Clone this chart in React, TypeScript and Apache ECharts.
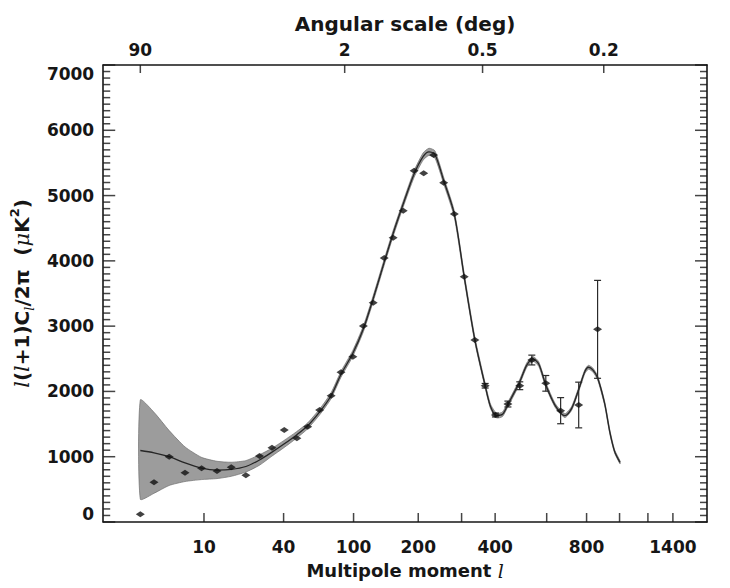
import React, { useEffect, useRef } from "react";
import * as echarts from "echarts";

// ---- axis ticks ----
const xLabelTicks = [10, 40, 100, 200, 400, 800, 1400];
const xMinorTicks = [300, 600, 1000, 1200];
const topDegTicks = [90, 2, 0.5, 0.2];
const yMajorTicks = [0, 1000, 2000, 3000, 4000, 5000, 6000, 7000];
const yMinorStep = 100;
const lRange = [0.512, 1712];
const yRange = [0, 7000];

// ---- binned data points (multipole l, power uK^2, 1-sigma error) ----
const dataL = [2, 3, 4.5, 6.6, 9.5, 13, 17, 22, 27.6, 33.6, 40.4, 48.4, 56.2, 65.8, 76.2, 86.1, 99.2, 112, 125, 141, 155, 172, 192, 211, 232, 255, 281, 307, 337, 368, 401, 444, 488, 536, 596, 665, 757, 863];
const dataV = [118, 608, 1000, 755, 822, 781, 838, 715, 1011, 1138, 1409, 1282, 1459, 1715, 1934, 2293, 2531, 3001, 3358, 4043, 4354, 4767, 5380, 5340, 5620, 5196, 4717, 3757, 2787, 2087, 1639, 1807, 2087, 2481, 2124, 1705, 1792, 2951];
const dataErr = [0, 0, 0, 0, 0, 0, 0, 0, 0, 0, 0, 0, 0, 0, 0, 0, 0, 0, 0, 0, 0, 0, 0, 0, 0, 0, 0, 0, 0, 35, 30, 45, 60, 75, 120, 200, 350, 750];

// ---- best-fit model curve and its cosmic-variance band ----
const thL = [2, 3, 4.5, 6.6, 9.5, 13, 17, 22, 27.6, 33.6, 40, 48, 56, 66, 76, 86, 99, 112, 125, 141, 155, 172, 192, 210, 222, 235, 255, 281, 307, 337, 368, 385, 405, 425, 444, 488, 515, 540, 565, 596, 640, 686, 720, 757, 790, 810, 835, 863, 905, 939, 968, 1003];
const thV = [1095, 1060, 1000, 905, 825, 795, 805, 850, 950, 1070, 1190, 1330, 1470, 1690, 1930, 2260, 2580, 2960, 3420, 3980, 4420, 4870, 5330, 5600, 5670, 5630, 5230, 4717, 3760, 2790, 2090, 1770, 1630, 1650, 1800, 2150, 2400, 2500, 2420, 2100, 1780, 1630, 1740, 2030, 2300, 2370, 2330, 2210, 1820, 1360, 1080, 914];
const bandHi = [1870, 1680, 1400, 1150, 990, 930, 915, 940, 1030, 1130, 1245, 1380, 1515, 1735, 1975, 2305, 2625, 3005, 3465, 4025, 4465, 4915, 5380, 5655, 5725, 5685, 5280, 4765, 3805, 2830, 2125, 1805, 1665, 1685, 1835, 2185, 2435, 2535, 2455, 2135, 1810, 1660, 1770, 2060, 2330, 2400, 2360, 2240, 1850, 1390, 1105, 935];
const bandLo = [350, 440, 560, 620, 650, 665, 700, 765, 870, 1010, 1135, 1280, 1425, 1645, 1885, 2215, 2535, 2915, 3375, 3935, 4375, 4825, 5280, 5545, 5615, 5575, 5180, 4670, 3715, 2750, 2055, 1735, 1595, 1615, 1765, 2115, 2365, 2465, 2385, 2065, 1750, 1600, 1710, 2000, 2270, 2340, 2300, 2180, 1790, 1330, 1055, 890];

const yTitle = "l(l+1)C_l/2π (μK²)";
const xTitle = "Multipole moment l";
const topTitle = "Angular scale (deg)";

// axis scale used by the figure: position proportional to l^(1/4)
const toU = (l: number) => Math.pow(l, 0.25);

const FONT = "DejaVu Sans";
const INK = "#161616";
const TICK_W = 1.5;

export default function App() {
  const ref = useRef<HTMLDivElement>(null);
  useEffect(() => {
    if (!ref.current) return;
    const chart = echarts.init(ref.current, null, { renderer: "svg" });
    const labelStyle = { fontFamily: FONT, fontSize: 17, fontWeight: "bold", color: INK };
    const uMin = toU(lRange[0]);
    const uMax = toU(lRange[1]);
    const topU = topDegTicks.map((d) => toU(180 / d));

    // tick marks drawn as thin rect symbols anchored on the frame, pointing inward
    const tickItems: any[] = [];
    [...xLabelTicks, ...xMinorTicks].forEach((l) =>
      tickItems.push({ value: [toU(l), yRange[0]], symbolSize: [TICK_W, 9], symbolOffset: [0, -4.5] })
    );
    topU.forEach((u) =>
      tickItems.push({ value: [u, yRange[1]], symbolSize: [TICK_W, 8], symbolOffset: [0, 4] })
    );
    for (let v = yRange[0]; v <= yRange[1]; v += yMinorStep) {
      const len = yMajorTicks.includes(v) ? 12 : 7;
      tickItems.push({ value: [uMin, v], symbolSize: [len, TICK_W], symbolOffset: [len / 2, 0] });
      tickItems.push({ value: [uMax, v], symbolSize: [len, TICK_W], symbolOffset: [-len / 2, 0] });
    }

    const hiddenTicks = { show: false };
    const option: any = {
      animation: false,
      backgroundColor: "#ffffff",
      grid: { left: 97, right: 23, top: 65, bottom: 66, containLabel: false },
      xAxis: [
        {
          type: "value",
          position: "bottom",
          min: uMin,
          max: uMax,
          axisLine: { show: true, onZero: false, lineStyle: { color: INK, width: 1.6 } },
          axisTick: hiddenTicks,
          axisLabel: {
            ...labelStyle,
            margin: 16,
            customValues: xLabelTicks.map(toU),
            formatter: (v: number) => String(Math.round(Math.pow(v, 4))),
          },
          splitLine: { show: false },
          name: "{n|Multipole moment }{it|l}",
          nameLocation: "middle",
          nameGap: 39,
          nameTextStyle: {
            rich: {
              n: { ...labelStyle, fontSize: 18 },
              it: { fontFamily: "DejaVu Serif", fontStyle: "italic", fontSize: 19, color: INK },
            },
          },
        },
        {
          type: "value",
          position: "top",
          min: uMin,
          max: uMax,
          axisLine: { show: true, onZero: false, lineStyle: { color: INK, width: 1.6 } },
          axisTick: hiddenTicks,
          axisLabel: {
            ...labelStyle,
            margin: 7,
            customValues: topU,
            formatter: (v: number) => {
              let best = 0;
              topU.forEach((u, i) => {
                if (Math.abs(u - v) < Math.abs(topU[best] - v)) best = i;
              });
              return String(topDegTicks[best]);
            },
          },
          splitLine: { show: false },
          name: topTitle,
          nameLocation: "middle",
          nameGap: 31,
          nameTextStyle: { ...labelStyle, fontSize: 20 },
        },
      ],
      yAxis: [
        {
          type: "value",
          position: "left",
          min: yRange[0],
          max: yRange[1],
          interval: 1000,
          axisLine: { show: true, lineStyle: { color: INK, width: 1.6 } },
          axisTick: hiddenTicks,
          axisLabel: {
            ...labelStyle,
            margin: 9,
            formatter: (v: number) => String(v),
            verticalAlignMinLabel: "bottom",
            verticalAlignMaxLabel: "top",
          },
          splitLine: { show: false },
          name: "{it|l}{n|(}{it|l}{n|+1)C}{sub|l}{n|/2π  (}{it|μ}{n|K}{sup|2}{n|)}",
          nameLocation: "middle",
          nameRotate: 90,
          nameGap: 58,
          nameTextStyle: {
            rich: {
              n: { ...labelStyle, fontSize: 20, lineHeight: 28, verticalAlign: "middle" },
              it: { fontFamily: "DejaVu Serif", fontStyle: "italic", fontSize: 21, color: INK, lineHeight: 28, verticalAlign: "middle" },
              sub: { fontFamily: "DejaVu Serif", fontStyle: "italic", fontSize: 13, color: INK, lineHeight: 13, verticalAlign: "bottom" },
              sup: { ...labelStyle, fontSize: 13, lineHeight: 13, verticalAlign: "top" },
            },
          },
        },
        {
          type: "value",
          position: "right",
          min: yRange[0],
          max: yRange[1],
          interval: 1000,
          axisLine: { show: true, lineStyle: { color: INK, width: 1.6 } },
          axisTick: hiddenTicks,
          axisLabel: { show: false },
          splitLine: { show: false },
        },
      ],
      series: [
        {
          type: "custom",
          name: "band",
          xAxisIndex: 0,
          yAxisIndex: 0,
          silent: true,
          z: 1,
          data: [[toU(thL[0]), thV[0]]],
          encode: { x: 0, y: 1 },
          renderItem: (_params: any, api: any) => {
            const upper = thL.map((l, i) => api.coord([toU(l), bandHi[i]]));
            const lower = thL.map((l, i) => api.coord([toU(l), bandLo[i]])).reverse();
            return {
              type: "polygon",
              shape: { points: [...upper, ...lower], smooth: 0.2 },
              style: { fill: "#9c9c9c", stroke: "#6e6e6e", lineWidth: 0.7 },
            };
          },
        },
        {
          type: "line",
          name: "model",
          xAxisIndex: 0,
          yAxisIndex: 0,
          z: 2,
          smooth: 0.3,
          showSymbol: false,
          silent: true,
          data: thL.map((l, i) => [toU(l), thV[i]]),
          lineStyle: { color: "#262626", width: 1.3 },
        },
        {
          type: "custom",
          name: "errors",
          xAxisIndex: 0,
          yAxisIndex: 0,
          silent: true,
          z: 3,
          data: dataL
            .map((l, i) => [toU(l), dataV[i], dataErr[i]])
            .filter((d) => d[2] > 0),
          encode: { x: 0, y: 1 },
          renderItem: (_params: any, api: any) => {
            const u = api.value(0);
            const v = api.value(1);
            const e = api.value(2);
            const top = api.coord([u, v + e]);
            const bot = api.coord([u, v - e]);
            const w = 3.5;
            const st = { stroke: "#2a2a2a", lineWidth: 1.2 };
            return {
              type: "group",
              children: [
                { type: "line", shape: { x1: top[0], y1: top[1], x2: bot[0], y2: bot[1] }, style: st },
                { type: "line", shape: { x1: top[0] - w, y1: top[1], x2: top[0] + w, y2: top[1] }, style: st },
                { type: "line", shape: { x1: bot[0] - w, y1: bot[1], x2: bot[0] + w, y2: bot[1] }, style: st },
              ],
            };
          },
        },
        {
          type: "scatter",
          name: "data",
          xAxisIndex: 0,
          yAxisIndex: 0,
          z: 4,
          silent: true,
          symbol: "diamond",
          symbolSize: [9, 6],
          itemStyle: { color: "#111111" },
          data: dataL.map((l, i) => [toU(l), dataV[i]]),
        },
        {
          type: "scatter",
          name: "ticks",
          xAxisIndex: 0,
          yAxisIndex: 0,
          z: 6,
          silent: true,
          clip: false,
          symbol: "rect",
          itemStyle: { color: INK },
          data: tickItems,
        },
      ],
    };
    chart.setOption(option);
    return () => chart.dispose();
  }, []);
  return (
    <div
      ref={ref}
      style={{ position: "fixed", left: 0, top: 0, width: 730, height: 588, background: "#fff" }}
      data-title={`${topTitle} | ${xTitle} | ${yTitle}`}
    />
  );
}
